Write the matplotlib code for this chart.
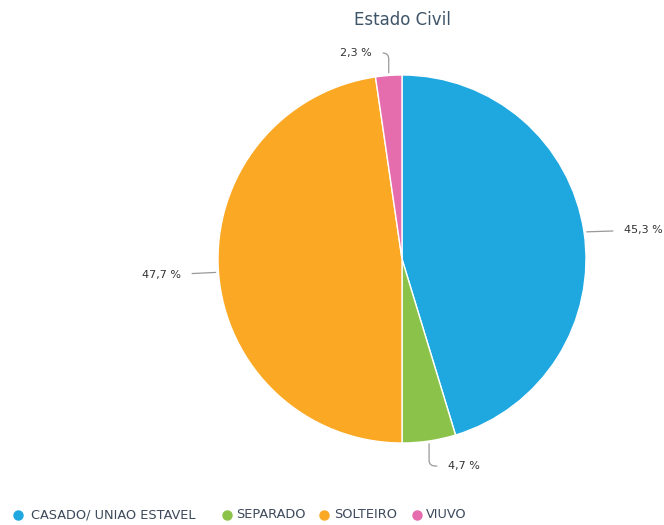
import numpy as np
import matplotlib.pyplot as plt
from matplotlib.lines import Line2D

categories = ["CASADO/ UNIAO ESTAVEL", "SEPARADO", "SOLTEIRO", "VIUVO"]
values = [45.3, 4.7, 47.7, 2.3]
labels = ["45,3 %", "4,7 %", "47,7 %", "2,3 %"]
colors = ["#1fa8e0", "#8bc34a", "#fba925", "#e56cad"]

W, H = 664, 525
cx, cy, R = 402, 259, 184

fig = plt.figure(figsize=(W / 100, H / 100), dpi=100)
ax = fig.add_axes([(cx - R) / W, (H - cy - R) / H, 2 * R / W, 2 * R / H])

wedges, _ = ax.pie(
    values,
    colors=colors,
    startangle=90,
    counterclock=False,
    radius=1,
    wedgeprops=dict(edgecolor="white", linewidth=1),
)
ax.set_xlim(-1, 1)
ax.set_ylim(-1, 1)
ax.set_aspect("auto")
ax.axis("off")

# label placement (pixel positions -> pie-radius units)
def px(x, y):
    return (x - cx) / R, (cy - y) / R

label_pos = [px(624, 230), px(448, 466), px(181, 275), px(372, 53)]
label_ha = ["left", "left", "right", "right"]
conn = [
    "arc3,rad=0",
    "angle,angleA=0,angleB=90,rad=6",
    "arc3,rad=0",
    "angle,angleA=0,angleB=90,rad=6",
]

for w, lab, pos, ha, cs in zip(wedges, labels, label_pos, label_ha, conn):
    mid = np.deg2rad((w.theta1 + w.theta2) / 2)
    edge = (np.cos(mid), np.sin(mid))
    ax.annotate(
        lab,
        xy=edge,
        xytext=(pos[0], pos[1]),
        ha=ha,
        va="center",
        fontsize=8,
        color="#333333",
        annotation_clip=False,
        arrowprops=dict(
            arrowstyle="-",
            color="#999999",
            lw=0.9,
            shrinkA=6,
            shrinkB=2,
            connectionstyle=cs,
        ),
    )

fig.text(cx / W, 1 - 20 / H, "Estado Civil", ha="center", va="center",
         fontsize=12, color="#3e5468")

# legend drawn by hand to match the item spacing
marker_x = [18, 227, 324, 417]
text_x = [31, 236, 334, 426]
leg_y = 1 - 515 / H
for cat, c, mx, tx in zip(categories, colors, marker_x, text_x):
    fig.add_artist(Line2D([mx / W], [leg_y], marker="o", linestyle="none",
                          markersize=6.5, markerfacecolor=c, markeredgecolor=c,
                          transform=fig.transFigure))
    fig.text(tx / W, leg_y, cat, ha="left", va="center",
             fontsize=9.3, color="#3d4a5c")

fig.savefig("out.png", dpi=100)
